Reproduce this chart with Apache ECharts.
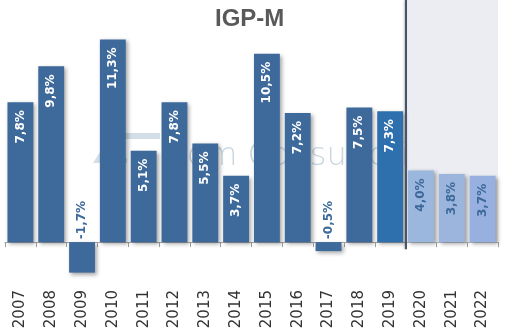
<!DOCTYPE html>
<html>
<head>
<meta charset="utf-8">
<script src="https://cdn.jsdelivr.net/npm/echarts@6/dist/echarts.min.js"></script>
<style>
  html, body { margin: 0; padding: 0; background: #fff; }
  #chart { width: 509px; height: 334px; }
</style>
</head>
<body>
<div id="chart"></div>
<script>
// IGP-M annual variation (%), realised values up to 2019, projections from 2020
const years = ['2007', '2008', '2009', '2010', '2011', '2012', '2013', '2014',
               '2015', '2016', '2017', '2018', '2019', '2020', '2021', '2022'];
const igpm = [7.8, 9.8, -1.7, 11.3, 5.1, 7.8, 5.5, 3.7,
              10.5, 7.2, -0.5, 7.5, 7.3, 4.0, 3.8, 3.7];
const firstForecastYear = '2020';
const highlightYear = '2019';

const Y_MIN = -2;
const Y_MAX = 13.5;

const BAR_BLUE = '#3D699B';
const BAR_HIGHLIGHT = '#2E6FAD';
const FORECAST_COLORS = ['#9BB7DE', '#9CB5DC', '#97B0E0'];

const forecastStart = years.indexOf(firstForecastYear);

const fmt = v => v.toFixed(1).replace('.', ',') + '%';

const data = igpm.map((v, i) => {
  const isForecast = i >= forecastStart;
  let color = BAR_BLUE;
  if (years[i] === highlightYear) color = BAR_HIGHLIGHT;
  if (isForecast) color = FORECAST_COLORS[(i - forecastStart) % FORECAST_COLORS.length];
  let label;
  if (v < 0) {
    label = { position: 'top', distance: 3, align: 'left', verticalAlign: 'middle', color: BAR_BLUE };
  } else {
    label = { position: 'insideTop', distance: 8, align: 'right', verticalAlign: 'middle',
              color: isForecast ? BAR_BLUE : '#ffffff' };
  }
  return { value: v, itemStyle: { color }, label };
});

const chart = echarts.init(document.getElementById('chart'), null, { renderer: 'canvas' });

chart.setOption({
  animation: false,
  title: {
    text: 'IGP-M',
    left: 210,
    top: 2,
    textStyle: { fontFamily: 'Liberation Sans', fontWeight: 'bold', fontSize: 24, color: '#595959' }
  },
  graphic: {
    elements: [
      {
        type: 'polygon',
        z: 1,
        shape: { points: [[93, 163], [112, 133], [160, 133], [160, 139], [118, 139], [106, 158], [127, 158], [127, 163]] },
        style: { fill: '#D3DEE6' }
      },
      {
        type: 'text',
        z: 1,
        style: {
          text: 'Dom Consultoria',
          x: 162,
          y: 173,
          textVerticalAlign: 'bottom',
          font: '200 32px "DejaVu Sans"',
          fill: '#C9D6E0'
        }
      }
    ]
  },
  grid: { left: 5, right: 11, top: 0, bottom: 56, containLabel: false, outerBoundsMode: 'none' },
  xAxis: [
    {
      type: 'category',
      data: years,
      boundaryGap: true,
      axisLine: { onZero: true, lineStyle: { color: '#A8A8A8', width: 1 } },
      axisTick: { show: true, length: 5, lineStyle: { color: '#A0A0A0' } },
      axisLabel: {
        rotate: 90,
        margin: 12,
        fontFamily: 'DejaVu Sans',
        fontSize: 15,
        color: '#333333'
      },
      splitLine: { show: false }
    },
    {
      type: 'value',
      min: 0,
      max: years.length,
      show: false
    }
  ],
  yAxis: {
    type: 'value',
    min: Y_MIN,
    max: Y_MAX,
    show: false,
    splitLine: { show: false }
  },
  series: [
    {
      name: 'projection band',
      type: 'line',
      xAxisIndex: 1,
      data: [],
      z: 0,
      silent: true,
      markArea: {
        silent: true,
        itemStyle: { color: '#ECEDF2' },
        data: [[{ xAxis: forecastStart, yAxis: 0 }, { xAxis: years.length, yAxis: Y_MAX }]]
      },
      markLine: {
        silent: true,
        symbol: 'none',
        label: { show: false },
        lineStyle: { color: '#47556B', width: 2, type: 'solid',
                     shadowColor: 'rgba(0,0,0,0.25)', shadowBlur: 2, shadowOffsetX: -1 },
        data: [[{ coord: [forecastStart, Y_MAX] }, { coord: [forecastStart, -0.4] }]]
      }
    },
    {
      name: 'IGP-M',
      type: 'bar',
      xAxisIndex: 0,
      z: 3,
      barCategoryGap: '16%',
      data: data,
      itemStyle: {
        shadowColor: 'rgba(0,0,0,0.35)',
        shadowBlur: 4,
        shadowOffsetX: 2,
        shadowOffsetY: 2
      },
      label: {
        show: true,
        rotate: 90,
        fontFamily: 'DejaVu Sans',
        fontWeight: 'bold',
        fontSize: 12,
        formatter: p => fmt(p.value)
      }
    }
  ]
});
</script>
</body>
</html>
